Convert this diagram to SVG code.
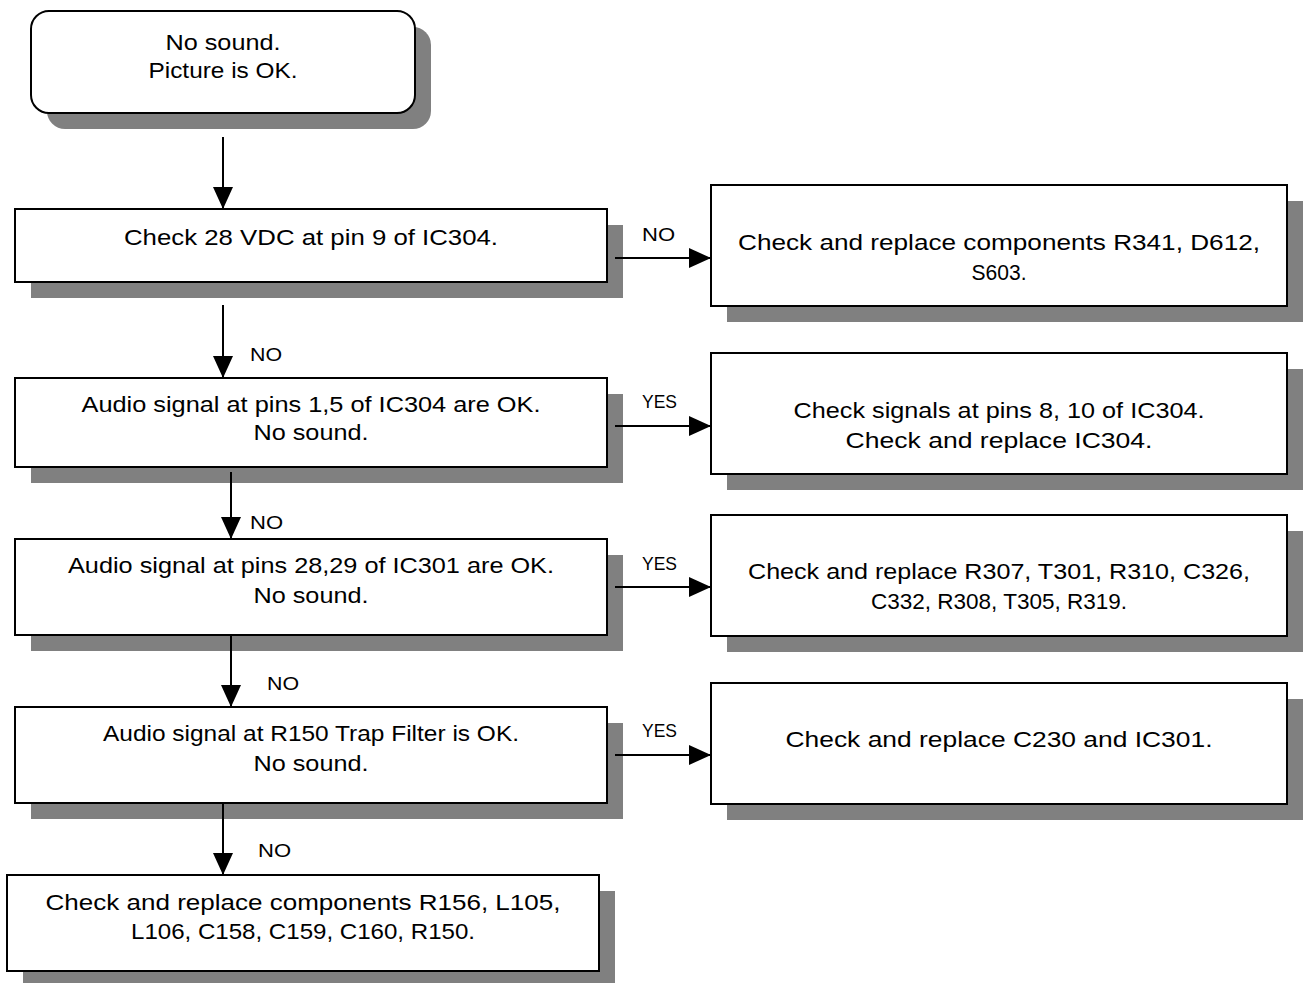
<svg xmlns="http://www.w3.org/2000/svg" width="1305" height="983" viewBox="0 0 1305 983">
<style>
.sh{fill:#808080;stroke:none}
.bx{fill:#fff;stroke:#000;stroke-width:2}
.t{font-family:"Liberation Sans",Arial,sans-serif;font-size:22.5px;fill:#000;text-anchor:middle}
.lb{font-family:"Liberation Sans",Arial,sans-serif;font-size:19px;fill:#000}
.ln{stroke:#000;stroke-width:2;fill:none;marker-end:url(#ah)}
</style>
<defs>
<marker id="ah" markerUnits="userSpaceOnUse" markerWidth="22" markerHeight="20" refX="22" refY="10" orient="auto">
<path d="M0,0 L22,10 L0,20 Z" fill="#000"/>
</marker>
</defs>
<rect width="1305" height="983" fill="#fff"/>
<g id="start">
<rect class="sh" x="47" y="27" width="384" height="102" rx="18"/>
<rect class="bx" x="31" y="11" width="384" height="102" rx="18"/>
<text class="t" x="223" y="50" textLength="115" lengthAdjust="spacingAndGlyphs">No sound.</text>
<text class="t" x="223" y="78" textLength="149" lengthAdjust="spacingAndGlyphs">Picture is OK.</text>
</g>
<g id="box1">
<rect class="sh" x="31" y="225" width="592" height="73"/>
<rect class="bx" x="15" y="209" width="592" height="73"/>
<text class="t" x="311" y="245" textLength="374" lengthAdjust="spacingAndGlyphs">Check 28 VDC at pin 9 of IC304.</text>
</g>
<g id="box2">
<rect class="sh" x="31" y="394" width="592" height="89"/>
<rect class="bx" x="15" y="378" width="592" height="89"/>
<text class="t" x="311" y="412" textLength="459" lengthAdjust="spacingAndGlyphs">Audio signal at pins 1,5 of IC304 are OK.</text>
<text class="t" x="311" y="440" textLength="115" lengthAdjust="spacingAndGlyphs">No sound.</text>
</g>
<g id="box3">
<rect class="sh" x="31" y="555" width="592" height="96"/>
<rect class="bx" x="15" y="539" width="592" height="96"/>
<text class="t" x="311" y="573" textLength="486" lengthAdjust="spacingAndGlyphs">Audio signal at pins 28,29 of IC301 are OK.</text>
<text class="t" x="311" y="603" textLength="115" lengthAdjust="spacingAndGlyphs">No sound.</text>
</g>
<g id="box4">
<rect class="sh" x="31" y="723" width="592" height="96"/>
<rect class="bx" x="15" y="707" width="592" height="96"/>
<text class="t" x="311" y="741" textLength="416" lengthAdjust="spacingAndGlyphs">Audio signal at R150 Trap Filter is OK.</text>
<text class="t" x="311" y="771" textLength="115" lengthAdjust="spacingAndGlyphs">No sound.</text>
</g>
<g id="box5">
<rect class="sh" x="23" y="891" width="592" height="96"/>
<rect class="bx" x="7" y="875" width="592" height="96"/>
<text class="t" x="303" y="910" textLength="515" lengthAdjust="spacingAndGlyphs">Check and replace components R156, L105,</text>
<text class="t" x="303" y="939" textLength="344" lengthAdjust="spacingAndGlyphs">L106, C158, C159, C160, R150.</text>
</g>
<g id="r1">
<rect class="sh" x="727" y="201" width="576" height="121"/>
<rect class="bx" x="711" y="185" width="576" height="121"/>
<text class="t" x="999" y="250" textLength="522" lengthAdjust="spacingAndGlyphs">Check and replace components R341, D612,</text>
<text class="t" x="999" y="280" textLength="55" lengthAdjust="spacingAndGlyphs">S603.</text>
</g>
<g id="r2">
<rect class="sh" x="727" y="369" width="576" height="121"/>
<rect class="bx" x="711" y="353" width="576" height="121"/>
<text class="t" x="999" y="418" textLength="411" lengthAdjust="spacingAndGlyphs">Check signals at pins 8, 10 of IC304.</text>
<text class="t" x="999" y="448" textLength="307" lengthAdjust="spacingAndGlyphs">Check and replace IC304.</text>
</g>
<g id="r3">
<rect class="sh" x="727" y="531" width="576" height="121"/>
<rect class="bx" x="711" y="515" width="576" height="121"/>
<text class="t" x="999" y="579" textLength="502" lengthAdjust="spacingAndGlyphs">Check and replace R307, T301, R310, C326,</text>
<text class="t" x="999" y="609" textLength="256" lengthAdjust="spacingAndGlyphs">C332, R308, T305, R319.</text>
</g>
<g id="r4">
<rect class="sh" x="727" y="699" width="576" height="121"/>
<rect class="bx" x="711" y="683" width="576" height="121"/>
<text class="t" x="999" y="747" textLength="427" lengthAdjust="spacingAndGlyphs">Check and replace C230 and IC301.</text>
</g>
<g id="connectors">
<line class="ln" x1="223" y1="137" x2="223" y2="209"/>
<line class="ln" x1="223" y1="305" x2="223" y2="378"/>
<line class="ln" x1="231" y1="472" x2="231" y2="539"/>
<line class="ln" x1="231" y1="635" x2="231" y2="707"/>
<line class="ln" x1="223" y1="803" x2="223" y2="875"/>
<line class="ln" x1="615" y1="258" x2="711" y2="258"/>
<line class="ln" x1="615" y1="426" x2="711" y2="426"/>
<line class="ln" x1="615" y1="587" x2="711" y2="587"/>
<line class="ln" x1="615" y1="755" x2="711" y2="755"/>
<text class="lb" x="642" y="241" textLength="33" lengthAdjust="spacingAndGlyphs">NO</text>
<text class="lb" x="250" y="361" textLength="32" lengthAdjust="spacingAndGlyphs">NO</text>
<text class="lb" x="642" y="408" textLength="35" lengthAdjust="spacingAndGlyphs">YES</text>
<text class="lb" x="250" y="529" textLength="33" lengthAdjust="spacingAndGlyphs">NO</text>
<text class="lb" x="642" y="570" textLength="35" lengthAdjust="spacingAndGlyphs">YES</text>
<text class="lb" x="267" y="690" textLength="32" lengthAdjust="spacingAndGlyphs">NO</text>
<text class="lb" x="642" y="737" textLength="35" lengthAdjust="spacingAndGlyphs">YES</text>
<text class="lb" x="258" y="857" textLength="33" lengthAdjust="spacingAndGlyphs">NO</text>
</g>
</svg>
